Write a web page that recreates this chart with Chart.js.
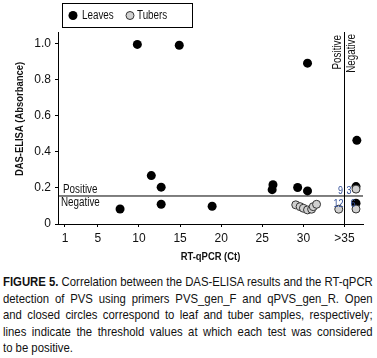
<!DOCTYPE html>
<html>
<head>
<meta charset="utf-8">
<script src="https://cdn.jsdelivr.net/npm/chart.js@4.4.0/dist/chart.umd.min.js"></script>
<style>
body { margin: 0; background: #fff; width: 377px; height: 358px; overflow: hidden;
       font-family: 'Liberation Sans', Arial, sans-serif; }
#wrap { position: relative; width: 377px; height: 268px; }
#caption { margin: 6px 0 0 3px; width: 440px; transform: scaleX(0.84); transform-origin: 0 0;
           font-size: 13.5px; line-height: 16.6px; color: #111; }
#caption div { white-space: nowrap; text-align: justify; text-align-last: justify; }
#caption div:last-child { text-align-last: left; }
</style>
</head>
<body>
<div id="wrap"><canvas id="chart" width="377" height="268"></canvas></div>
<div id="caption">
<div><b>FIGURE 5.</b> Correlation between the DAS-ELISA results and the RT-qPCR</div>
<div>detection of PVS using primers PVS_gen_F and qPVS_gen_R. Open</div>
<div>and closed circles correspond to leaf and tuber samples, respectively;</div>
<div>lines indicate the threshold values at which each test was considered</div>
<div>to be positive.</div>
</div>
<script>
// axis ticks
const xTicks = [1, 5, 10, 15, 20, 25, 30, 35];
const xTickLabels = ['1', '5', '10', '15', '20', '25', '30', '>35'];
const yTicks = [0, 0.2, 0.4, 0.6, 0.8, 1.0];
const yTickLabels = ['0', '0.2', '0.4', '0.6', '0.8', '1.0'];

// leaf samples (black)
const leavesCt  = [9.8, 14.9, 30.5, 36.5, 11.5, 12.7, 26.3, 26.2, 29.3, 30.5, 7.7, 12.7, 18.9, 36.4, 36.4];
const leavesAbs = [0.994, 0.989, 0.89, 0.463, 0.268, 0.204, 0.217, 0.19, 0.202, 0.183, 0.083, 0.109, 0.098, 0.207, 0.115];

// tuber samples (grey)
const tubersCt  = [29.07, 29.6, 30.0, 30.5, 31.0, 31.2, 31.6, 34.3, 36.4, 36.4];
const tubersAbs = [0.106, 0.096, 0.087, 0.078, 0.082, 0.096, 0.109, 0.082, 0.193, 0.083];

// thresholds and counts
const ctThreshold = 35;
const elisaThreshold = 0.155;
const countLabels = ['9', '3', '12', '6'];

const xMin = 0.15, xMax = 37.25;
const yMin = 0, yMax = 1.0625;
const FONT = "'Liberation Sans', Arial, sans-serif";
const NARROW = 0.82;
Chart.defaults.font.family = FONT;
Chart.defaults.color = '#111';

function toPoints(xs, ys) {
    return xs.map((x, i) => ({ x: x, y: ys[i] }));
}

// squeeze text horizontally to look like a condensed face
function narrowText(ctx, text, x, y, rot) {
    ctx.save();
    ctx.translate(x, y);
    if (rot) ctx.rotate(rot);
    ctx.scale(NARROW, 1);
    ctx.fillText(text, 0, 0);
    ctx.restore();
}

// legend box, threshold labels, axis titles
const extras = {
    id: 'extras',
    afterDraw(chart) {
        const ctx = chart.ctx;
        const xs = chart.scales.x, ys = chart.scales.y;
        const area = chart.chartArea;
        const vx = xs.getPixelForValue(ctThreshold);
        const hy = ys.getPixelForValue(elisaThreshold);
        ctx.save();

        // legend
        ctx.strokeStyle = '#000';
        ctx.lineWidth = 1;
        ctx.strokeRect(62.5, 3.5, 130, 24);
        const leaves = chart.data.datasets[0], tubers = chart.data.datasets[1];
        ctx.beginPath();
        ctx.arc(73, 15.5, 4.5, 0, Math.PI * 2);
        ctx.fillStyle = leaves.backgroundColor;
        ctx.fill();
        ctx.beginPath();
        ctx.arc(130, 15.5, 4, 0, Math.PI * 2);
        ctx.fillStyle = tubers.backgroundColor;
        ctx.fill();
        ctx.strokeStyle = tubers.borderColor;
        ctx.stroke();
        ctx.fillStyle = '#111';
        ctx.font = '12px ' + FONT;
        ctx.textBaseline = 'middle';
        ctx.textAlign = 'left';
        narrowText(ctx, leaves.label, 82, 15.5);
        narrowText(ctx, tubers.label, 137, 15.5);

        // horizontal threshold labels
        ctx.textBaseline = 'bottom';
        narrowText(ctx, 'Positive', area.left + 5, hy - 0.5);
        ctx.textBaseline = 'top';
        narrowText(ctx, 'Negative', area.left + 3, hy + 1);

        // vertical threshold labels
        ctx.textAlign = 'right';
        ctx.textBaseline = 'middle';
        narrowText(ctx, 'Positive', vx - 6.5, area.top + 3, -Math.PI / 2);
        narrowText(ctx, 'Negative', vx + 7.5, area.top + 2, -Math.PI / 2);

        // sample counts around the crossing
        ctx.fillStyle = '#33509a';
        ctx.font = '11px ' + FONT;
        ctx.textBaseline = 'bottom';
        ctx.textAlign = 'right';
        narrowText(ctx, countLabels[0], vx - 1.5, hy);
        ctx.textAlign = 'left';
        narrowText(ctx, countLabels[1], vx + 2, hy);
        ctx.textBaseline = 'top';
        ctx.textAlign = 'right';
        narrowText(ctx, countLabels[2], vx - 1, hy + 2);
        ctx.textAlign = 'left';
        narrowText(ctx, countLabels[3], vx + 6, hy + 2);

        // axis titles
        ctx.fillStyle = '#111';
        ctx.font = 'bold 11.5px ' + FONT;
        ctx.textAlign = 'center';
        ctx.textBaseline = 'middle';
        narrowText(ctx, 'DAS-ELISA (Absorbance)', 20, 119, -Math.PI / 2);
        narrowText(ctx, 'RT-qPCR (Ct)', (area.left + area.right) / 2, 257);
        ctx.restore();
    }
};

new Chart(document.getElementById('chart').getContext('2d'), {
    type: 'scatter',
    data: {
        datasets: [
            {
                label: 'Leaves',
                data: toPoints(leavesCt, leavesAbs),
                backgroundColor: '#000',
                borderColor: '#000',
                borderWidth: 0,
                pointRadius: 4.5,
                order: 2
            },
            {
                label: 'Tubers',
                data: toPoints(tubersCt, tubersAbs),
                backgroundColor: '#d0d0d0',
                borderColor: '#333',
                borderWidth: 1,
                pointRadius: 4,
                order: 1
            },
            {
                type: 'line',
                label: 'ELISA threshold',
                data: [{ x: xMin, y: elisaThreshold }, { x: xMax, y: elisaThreshold }],
                borderColor: '#000',
                borderWidth: 1,
                pointRadius: 0,
                order: 3
            },
            {
                type: 'line',
                label: 'Ct threshold',
                data: [{ x: ctThreshold, y: yMin }, { x: ctThreshold, y: yMax }],
                borderColor: '#000',
                borderWidth: 1,
                pointRadius: 0,
                order: 3
            }
        ]
    },
    options: {
        responsive: false,
        animation: false,
        layout: { padding: { top: 32, right: 14, left: 0, bottom: 0 } },
        plugins: {
            legend: { display: false },
            tooltip: { enabled: false }
        },
        scales: {
            x: {
                type: 'linear',
                min: xMin,
                max: xMax,
                afterBuildTicks: (scale) => { scale.ticks = xTicks.map(v => ({ value: v })); },
                afterFit: (scale) => { scale.height = 44; },
                ticks: {
                    font: { size: 12 },
                    color: '#111',
                    padding: 4,
                    maxRotation: 0,
                    callback: (value) => xTickLabels[xTicks.indexOf(value)]
                },
                grid: { drawOnChartArea: false, drawTicks: true, tickLength: 3, color: '#000' },
                border: { display: true, color: '#000', width: 1 }
            },
            y: {
                type: 'linear',
                min: yMin,
                max: yMax,
                afterBuildTicks: (scale) => { scale.ticks = yTicks.map(v => ({ value: v })); },
                afterFit: (scale) => { scale.width = 58; },
                ticks: {
                    font: { size: 12 },
                    color: '#111',
                    padding: 4,
                    callback: (value) => yTickLabels[yTicks.indexOf(value)]
                },
                grid: { drawOnChartArea: false, drawTicks: true, tickLength: 3, color: '#000' },
                border: { display: true, color: '#000', width: 1 }
            }
        }
    },
    plugins: [extras]
});
</script>
</body>
</html>
